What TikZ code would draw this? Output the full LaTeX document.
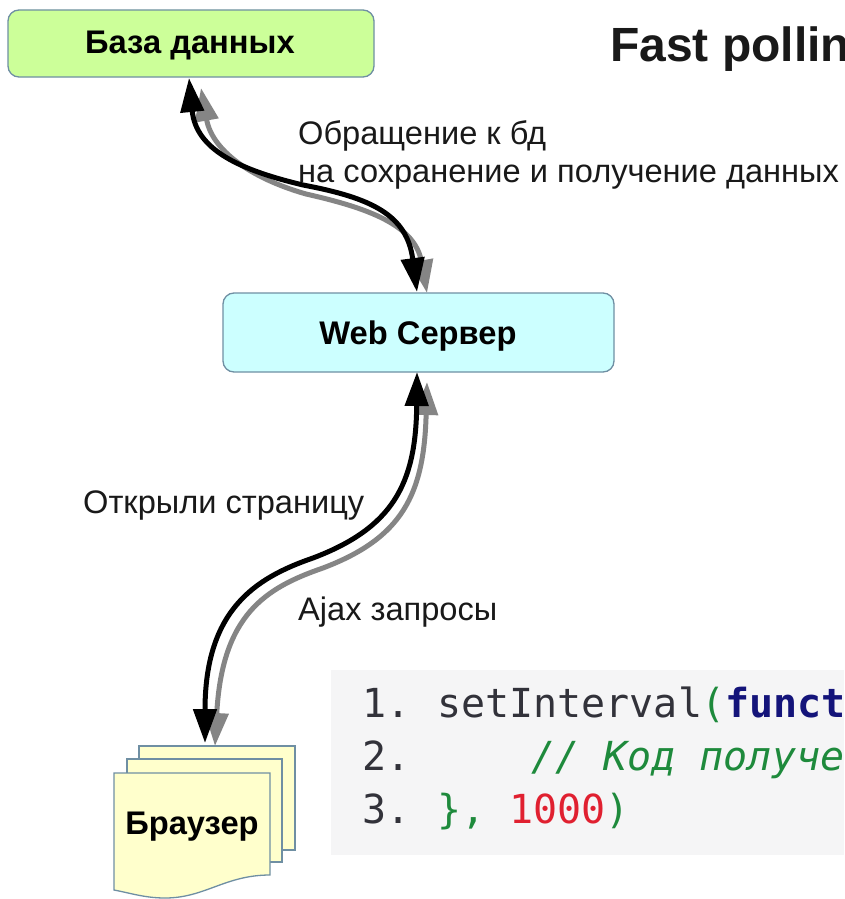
\documentclass[tikz,border=0pt]{standalone}
\usepackage{fontspec}
\setmainfont{Liberation Sans}
\newfontfamily\codefont{DejaVu Sans Mono}
\usetikzlibrary{arrows.meta}
\definecolor{edgeblue}{HTML}{6F8FA3}
\definecolor{dbfill}{HTML}{CCFF99}
\definecolor{srvfill}{HTML}{CCFFFF}
\definecolor{docfill}{HTML}{FFFFCC}
\definecolor{codebg}{HTML}{F5F5F6}
\definecolor{codegreen}{HTML}{1E8A3C}
\definecolor{codenavy}{HTML}{14147A}
\definecolor{codered}{HTML}{E02030}
\definecolor{codegray}{HTML}{32323A}
\definecolor{greyarrow}{HTML}{858585}
\tikzset{
  x=1pt,y=-1pt,
  box/.style={draw=edgeblue,line width=1.3pt,rounded corners=11pt},
  page/.style={draw=edgeblue,line width=1.3pt,fill=docfill},
  boxtext/.style={font=\fontsize{32.7}{36}\selectfont\bfseries,inner sep=0pt,anchor=base},
  label/.style={font=\fontsize{32.6}{36}\selectfont,anchor=base west,inner sep=0pt,text=black!90},
  code/.style={font=\codefont\fontsize{40}{50}\selectfont,anchor=base west,inner sep=0pt},
  blackflow/.style={draw=black,line width=5pt,{Triangle[length=34pt,width=23pt]}-{Triangle[length=34pt,width=23pt]}},
  greyflow/.style={draw=greyarrow,line width=5pt,greyarrow,{Triangle[length=33pt,width=23pt]}-{Triangle[length=33pt,width=23pt]}},
}
\begin{document}
\begin{tikzpicture}
\useasboundingbox (0,0) rectangle (844,899);
\clip (0,0) rectangle (844,899);
\fill[white] (0,0) rectangle (844,899);
% code panel
\fill[codebg] (331,670) rectangle (844,855);
\node[code,text=codegray] (n1) at (362,717) {1.};
\node[code,text=codegray] (f1) at (437,717) {setInterval};
\node[code,text=codegreen] (p1) at (701,717) {(};
\node[code,text=codenavy,font=\codefont\bfseries\fontsize{40}{50}\selectfont] (k1) at (725,717) {funct};
\node[code,text=codegray] (n2) at (362,770) {2.};
\node[code,text=codegreen,font=\codefont\itshape\fontsize{40}{50}\selectfont] (c2) at (531,770) {// Код получе};
\node[code,text=codegray] (n3) at (362,823) {3.};
\node[code,text=codegreen] (b3) at (437,823) {\},};
\node[code,text=codered] (v3) at (509,823) {1000};
\node[code,text=codegreen] (p3) at (605,823) {)};
% boxes
\draw[box,fill=dbfill] (8,10) rectangle (374,77);
\node[boxtext] (db) at (190,54) {База данных};
\draw[box,fill=srvfill] (223,293) rectangle (614,372);
\node[boxtext] (srv) at (418,344) {Web Сервер};
% browser pages
\draw[page] (139,746) rectangle (295,850);
\draw[page] (127,759) rectangle (282,862);
\draw[page] (114,773) -- (270,773) -- (270,875) .. controls (225,875) and (205,898) .. (165,898) .. controls (145,898) and (130,893) .. (114,890) -- cycle;
\node[boxtext] (br) at (192,834) {Браузер};
% labels
\node[font=\fontsize{48}{54}\selectfont\bfseries,anchor=base west,inner sep=0pt,text=black!90] (title) at (610,62) {Fast pollin};
\node[label] (l1) at (298,144) {Обращение к бд};
\node[label] (l2) at (298,182) {на сохранение и получение данных};
\node[label] (l3) at (83,513) {Открыли страницу};
\node[label] (l4) at (298,620) {Ajax запросы};
% named ends
\coordinate (dbG) at (201,88);
\coordinate (srvGt) at (427,293);
\coordinate (dbK) at (189,78);
\coordinate (srvKt) at (417,292);
\coordinate (srvGb) at (427,382);
\coordinate (brG) at (215,746);
\coordinate (srvKb) at (417,372);
\coordinate (brK) at (205,743);
\coordinate (m1g) at (306,194);
\coordinate (m1k) at (303,185);
\coordinate (m2g) at (323,568);
\coordinate (m2k) at (313,558);
% arrows
\draw[greyflow] (dbG) .. controls (212,150) and (250,178) .. (m1g) .. controls (368,208) and (415,225) .. (srvGt);
\draw[blackflow] (dbK) .. controls (196,150) and (240,170) .. (m1k) .. controls (372,198) and (407,215) .. (srvKt);
\draw[greyflow] (srvGb) .. controls (424,495) and (402,538) .. (m2g) .. controls (265,588) and (222,615) .. (brG);
\draw[blackflow] (srvKb) .. controls (416,485) and (392,528) .. (m2k) .. controls (255,578) and (205,610) .. (brK);
\end{tikzpicture}
\end{document}
